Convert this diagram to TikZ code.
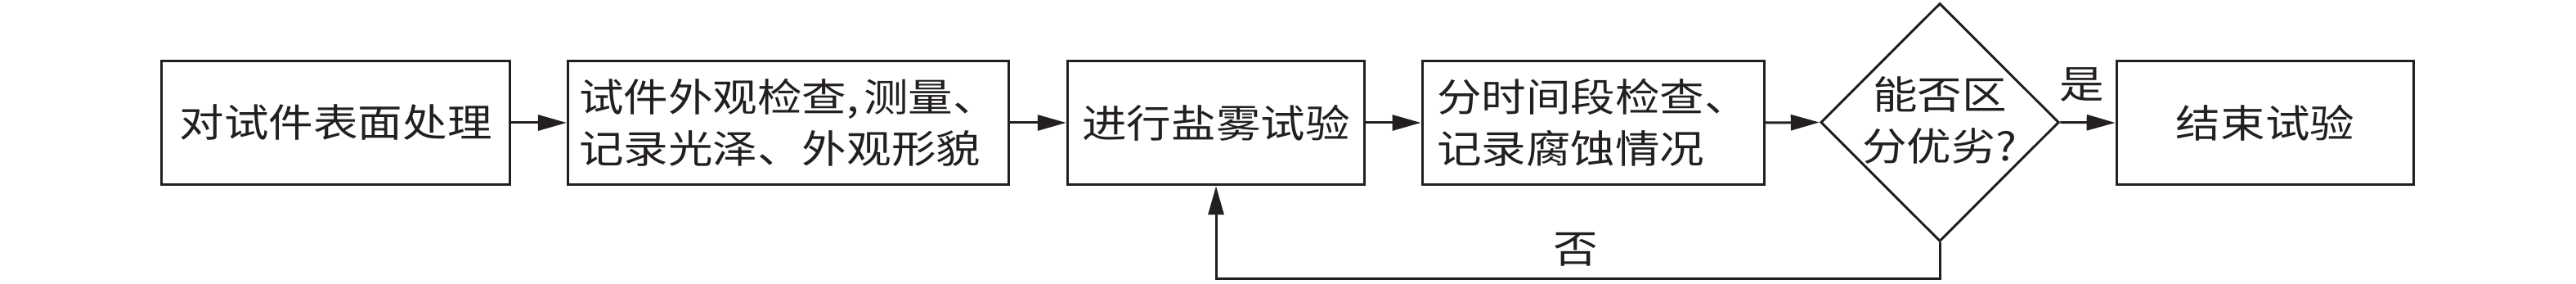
\documentclass[tikz,border=0pt]{standalone}
\usepackage{fontspec}
\setmainfont{Noto Sans CJK SC}[FakeStretch=1.15]
\usetikzlibrary{arrows.meta,shapes.geometric}
\definecolor{ink}{RGB}{35,31,32}
\tikzset{
  stepbox/.style={draw=ink, rectangle, minimum height=1.517cm, inner sep=0pt, align=left, text=ink},
  decbox/.style={draw=ink, diamond, minimum width=2.915cm, minimum height=2.91cm, inner sep=0pt},
  flowarrow/.style={draw=ink, -{Triangle[length=0.35cm,width=0.19cm]}},
  lbl/.style={text=ink, inner sep=0pt}
}
\begin{document}
\begin{tikzpicture}[line width=0.85pt, font=\fontsize{13.5pt}{17.9pt}\selectfont]
\useasboundingbox (0,0) rectangle (31.5,3.47);
\node[stepbox, minimum width=4.258cm] (b1) at (4.106,1.97) {对试件表面处理};
\node[stepbox, minimum width=5.394cm] (b2) at (9.641,1.97) {试件外观检查,\kern0.12em 测量、\\记录光泽、外观形貌};
\node[stepbox, minimum width=3.635cm] (b3) at (14.87,1.97) {进行盐雾试验};
\node[stepbox, minimum width=4.18cm] (b4) at (19.48,1.97) {分时间段检查、\\记录腐蚀情况};
\node[decbox] (d) at (23.72,1.975) {};
\node[lbl, align=center] (dt) at (23.72,2.0) {能否区\\分优劣?};
\node[stepbox, minimum width=3.637cm] (b5) at (27.70,1.97) {结束试验};
\coordinate (fb) at (23.72,0.063);
\draw[flowarrow] (b1.east) -- (b2.west);
\draw[flowarrow] (b2.east) -- (b3.west);
\draw[flowarrow] (b3.east) -- (b4.west);
\draw[flowarrow] (b4.east) -- (d.west);
\draw[flowarrow] (d.east) -- (b5.west);
\draw[flowarrow] (d.south) -- (fb) -| (b3.south);
\node[lbl] (yes) at (25.455,2.44) {是};
\node[lbl] (no) at (19.27,0.42) {否};
\end{tikzpicture}
\end{document}
